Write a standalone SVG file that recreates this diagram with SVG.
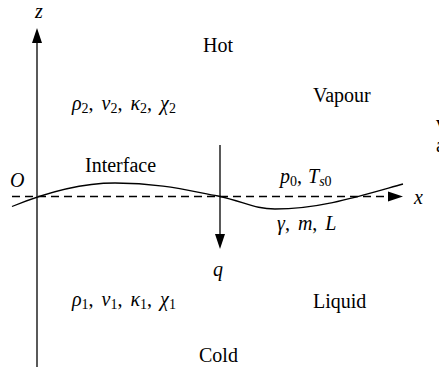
<svg xmlns="http://www.w3.org/2000/svg" width="439" height="369" viewBox="0 0 439 369">
<style>
text{font-family:'Liberation Serif','DejaVu Serif',serif;fill:#000}
.word{font-size:20px}
.math{font-size:20px;font-style:italic}
.sub{font-size:14px;font-style:normal}
.subi{font-size:14px;font-style:italic}
.rm{font-style:normal}
.ax{stroke:#000;stroke-width:1.3;fill:none}
</style>
<defs>
<marker id="ah" markerUnits="userSpaceOnUse" markerWidth="15" markerHeight="10" refX="0" refY="5" orient="auto" overflow="visible">
<path d="M0,0 L15,5 L0,10 Z" fill="#000" stroke="none"/>
</marker>
</defs>
<g id="connectors">
<line class="ax" x1="37" y1="367" x2="37" y2="43" marker-end="url(#ah)"/>
<line class="ax" x1="12" y1="196.5" x2="388" y2="196.5" stroke-dasharray="8,5" marker-end="url(#ah)"/>
<line class="ax" x1="220" y1="145" x2="220" y2="234" marker-end="url(#ah)"/>
<path id="interface-curve" class="ax" d="M12,206.5 C40,195 75,183 115,183 C160,183 190,191 218,196 C245,202 255,209 275,209 C320,209 360,196 403,184"/>
</g>
<g id="label-z"><text class="math" x="35" y="18">z</text></g>
<g id="label-O"><text class="math" x="10" y="187">O</text></g>
<g id="label-x"><text class="math" x="414" y="204">x</text></g>
<g id="label-q"><text class="math" x="213" y="276">q</text></g>
<g id="label-hot"><text class="word" x="203" y="52">Hot</text></g>
<g id="label-vapour"><text class="word" x="313" y="102">Vapour</text></g>
<g id="label-interface"><text class="word" x="85" y="172">Interface</text></g>
<g id="label-liquid"><text class="word" x="313" y="308">Liquid</text></g>
<g id="label-cold"><text class="word" x="199" y="362">Cold</text></g>
<g id="props-vapour"><text class="math" x="72" y="110" word-spacing="3">ρ<tspan class="sub" dy="3">2</tspan><tspan class="rm" dy="-3">, </tspan>ν<tspan class="sub" dy="3">2</tspan><tspan class="rm" dy="-3">, </tspan>κ<tspan class="sub" dy="3">2</tspan><tspan class="rm" dy="-3">, </tspan>χ<tspan class="sub" dy="3">2</tspan></text></g>
<g id="props-liquid"><text class="math" x="72" y="306" word-spacing="3">ρ<tspan class="sub" dy="3">1</tspan><tspan class="rm" dy="-3">, </tspan>ν<tspan class="sub" dy="3">1</tspan><tspan class="rm" dy="-3">, </tspan>κ<tspan class="sub" dy="3">1</tspan><tspan class="rm" dy="-3">, </tspan>χ<tspan class="sub" dy="3">1</tspan></text></g>
<g id="props-p0"><text class="math" x="280" y="183" word-spacing="1">p<tspan class="sub" dy="3">0</tspan><tspan class="rm" dy="-3">, </tspan>T<tspan class="subi" dy="3">s</tspan><tspan class="sub">0</tspan></text></g>
<g id="props-gamma"><text class="math" x="277" y="230" word-spacing="3">γ<tspan class="rm">, </tspan>m<tspan class="rm">, </tspan>L</text></g>
<g id="edge-text"><text class="word" x="436" y="130">v</text><text class="word" x="436" y="152">a</text></g>
</svg>
